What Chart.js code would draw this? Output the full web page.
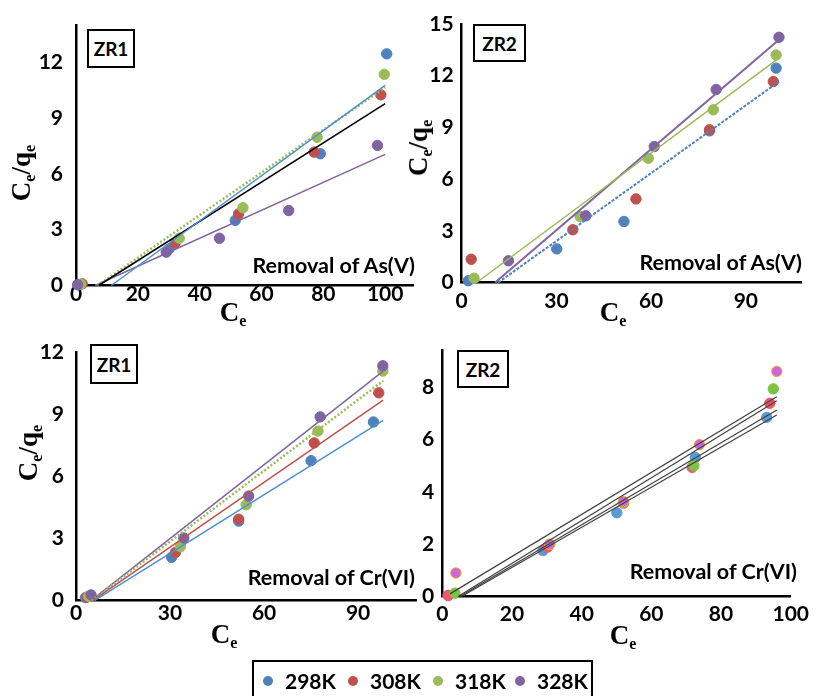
<!DOCTYPE html>
<html>
<head>
<meta charset="utf-8">
<script src="https://cdn.jsdelivr.net/npm/chart.js@4.4.1/dist/chart.umd.min.js"></script>
<style>
  body { margin: 0; background: #fff; }
  #page { position: relative; width: 816px; height: 696px; overflow: hidden; font-family: Lato, "Open Sans", sans-serif; }
  canvas { position: absolute; }
  .tag { position: absolute; border: 2px solid #000; box-sizing: border-box; font: bold 19px Lato, sans-serif; display: flex; align-items: center; justify-content: center; background: #fff; }
  .note { position: absolute; font: bold 21.5px Lato, sans-serif; white-space: nowrap; line-height: 20px; transform: translate(-100%, -50%); }
  .ttl { position: absolute; font: bold 27px "Liberation Serif", "DejaVu Serif", serif; line-height: 26px; white-space: nowrap; }
  .ttl sub { font-size: 16px; vertical-align: baseline; position: relative; top: 5px; }
  .xt { transform: translate(-50%, -50%); }
  .yt { transform: translate(-50%, -50%) rotate(-90deg); }
  #legend { position: absolute; left: 252px; top: 660px; width: 341px; height: 50px; border: 2px solid #000; box-sizing: border-box; }
  .li { position: absolute; top: 19px; font: bold 21px Lato, sans-serif; line-height: 20px; transform: translateY(-50%); }
  .dot { position: absolute; top: 14px; width: 10px; height: 10px; border-radius: 50%; }
</style>
</head>
<body>
<div id="page">
  <canvas id="c1" width="430" height="310" style="left:0;top:0"></canvas>
  <canvas id="c2" width="406" height="310" style="left:410px;top:0"></canvas>
  <canvas id="c3" width="430" height="300" style="left:0;top:330px"></canvas>
  <canvas id="c4" width="406" height="300" style="left:410px;top:330px"></canvas>

  <div class="tag" style="left:87px;top:29px;width:48px;height:39px">ZR1</div>
  <div class="tag" style="left:473px;top:24px;width:53px;height:38px">ZR2</div>
  <div class="tag" style="left:90px;top:344px;width:48px;height:40px">ZR1</div>
  <div class="tag" style="left:457px;top:350px;width:52px;height:38px">ZR2</div>

  <div class="note" style="left:415px;top:265px">Removal of As(V)</div>
  <div class="note" style="left:802px;top:262px">Removal of As(V)</div>
  <div class="note" style="left:415px;top:577px">Removal of Cr(VI)</div>
  <div class="note" style="left:797px;top:571px">Removal of Cr(VI)</div>

  <div class="ttl yt" style="left:23px;top:173px">C<sub>e</sub>/q<sub>e</sub></div>
  <div class="ttl yt" style="left:420px;top:148px">C<sub>e</sub>/q<sub>e</sub></div>
  <div class="ttl yt" style="left:30px;top:453px">C<sub>e</sub>/q<sub>e</sub></div>
  <div class="ttl xt" style="left:233px;top:314px">C<sub>e</sub></div>
  <div class="ttl xt" style="left:613px;top:314px">C<sub>e</sub></div>
  <div class="ttl xt" style="left:224px;top:636px">C<sub>e</sub></div>
  <div class="ttl xt" style="left:623px;top:637px">C<sub>e</sub></div>

  <div id="legend"></div>
</div>
<script>
// temperatures (series)
var temps = ['298K', '308K', '318K', '328K'];
var excelColors = ['#4F81BD', '#C0504D', '#9BBB59', '#8064A2'];

// As(V) on ZR1 : Ce and Ce/qe per temperature
var asZr1Ce = [
  [1, 30, 51.5, 79, 100.5],
  [2, 32, 52.6, 77, 98.6],
  [1.5, 33.4, 54, 78, 99.7],
  [0.5, 29.2, 46.4, 68.8, 97.5]
];
var asZr1Q = [
  [0.05, 1.95, 3.5, 7.08, 12.45],
  [0.09, 2.28, 3.85, 7.17, 10.25],
  [0.07, 2.54, 4.18, 7.97, 11.35],
  [0.04, 1.79, 2.54, 4.03, 7.53]
];
// fitted lines: [Ce start, y start, Ce end, y end]
var asZr1Fit = [
  [11.4, 0, 100, 10.75],
  [7.3, 0, 100, 9.77],
  [7, 0, 100, 10.65],
  [6.2, 0, 100, 7.05]
];

// As(V) on ZR2
var asZr2Ce = [
  [2.1, 30.1, 51.4, 78.5, 99.6],
  [3, 35.2, 55.2, 78.5, 98.7],
  [3.9, 37.5, 59.1, 79.7, 99.6],
  [14.8, 39.3, 61, 80.6, 100.5]
];
var asZr2Q = [
  [0.1, 1.95, 3.54, 8.8, 12.44],
  [1.35, 3.06, 4.85, 8.86, 11.66],
  [0.25, 3.83, 7.21, 10.02, 13.2],
  [1.26, 3.87, 7.89, 11.2, 14.23]
];
var asZr2Fit = [
  [11.6, 0, 100.5, 11.66],
  null,
  [4.75, 0, 99.6, 12.9],
  [10.6, 0, 100.5, 14.08]
];

// Cr(VI) on ZR1
var crZr1Ce = [
  [3, 30.5, 51.9, 75, 94.9],
  [3.5, 31.7, 51.9, 76, 96.6],
  [4, 33.3, 54.3, 77.2, 97.9],
  [4.8, 34.4, 55.1, 77.9, 97.9]
];
var crZr1Q = [
  [0.15, 2.1, 3.85, 6.77, 8.64],
  [0.18, 2.33, 3.94, 7.63, 10.05],
  [0.22, 2.61, 4.64, 8.2, 11.1],
  [0.28, 3.03, 5.06, 8.89, 11.36]
];
var crZr1Fit = [
  [5.85, 0, 98, 8.72],
  [5.3, 0, 98, 9.7],
  [5, 0, 98, 10.63],
  [4.8, 0, 98, 11.1]
];

// Cr(VI) on ZR2
var crZr2Ce = [
  [1.7, 28.9, 50.1, 72.6, 93.1],
  [1.7, 30.2, 52, 71.7, 94],
  [3.6, 30.8, 52, 72.2, 95],
  [3.9, 30.8, 52, 73.8, 96]
];
var crZr2Q = [
  [0.04, 1.76, 3.2, 5.32, 6.85],
  [0.04, 1.89, 3.57, 4.94, 7.39],
  [0.13, 1.99, 3.6, 5.0, 7.94],
  [0.9, 2.0, 3.63, 5.81, 8.61]
];
var crZr2Fit = [
  [5.5, 0, 96, 6.94],
  [5, 0, 96, 7.13],
  [4.5, 0, 96, 7.49],
  [2.2, 0.1, 96, 7.64]
];

var tickFont = {family: 'Lato', size: 21, weight: 'bold', lineHeight: 1};

function drawPanel(id, ce, q, fit, opt) {
  var datasets = [];
  fit.forEach(function(f, i) {
    if (!f) return;
    datasets.push({
      label: temps[i] + ' fit',
      data: [{x: f[0], y: f[1]}, {x: f[2], y: f[3]}],
      showLine: true,
      pointRadius: 0,
      borderColor: opt.lineColors[i],
      borderWidth: opt.lineWidths[i],
      borderDash: opt.dashes[i],
      order: 0,
      clip: false
    });
  });
  ce.forEach(function(row, i) {
    datasets.push({
      label: temps[i],
      data: row.map(function(x, j) { return {x: x, y: q[i][j]}; }),
      pointRadius: 5.2,
      backgroundColor: opt.pointColors[i],
      borderColor: opt.pointBorders ? opt.pointBorders[i] : opt.pointColors[i],
      borderWidth: 1,
      order: 4 - i,
      clip: false
    });
  });
  new Chart(document.getElementById(id), {
    type: 'scatter',
    data: {datasets: datasets},
    options: {
      responsive: false,
      animation: false,
      events: [],
      layout: {padding: opt.pad},
      plugins: {legend: {display: false}, tooltip: {enabled: false}},
      scales: {
        x: {
          type: 'linear', min: 0, max: opt.xMax,
          ticks: {stepSize: opt.xStep, includeBounds: false, color: '#000', font: tickFont, padding: opt.xPad, maxRotation: 0},
          grid: {display: false, drawTicks: false},
          border: {color: '#000', width: 2.5},
          afterFit: function(s) { s.height = opt.xH; }
        },
        y: {
          type: 'linear', min: 0, max: opt.yMax,
          ticks: {stepSize: opt.yStep, includeBounds: false, color: '#000', font: tickFont, padding: opt.yPad},
          grid: {display: false, drawTicks: false},
          border: {color: '#000', width: 2.5},
          afterFit: function(s) { s.width = opt.yW; }
        }
      }
    }
  });
}

drawPanel('c1', asZr1Ce, asZr1Q, asZr1Fit, {
  pad: {left: 0, top: 25, right: 17, bottom: 0}, yW: 76, xH: 24.5,
  xMax: 109, xStep: 20, yMax: 14, yStep: 3, xPad: -1.5, yPad: 13,
  pointColors: excelColors,
  lineColors: ['#4F8FD0', '#000000', '#9BBB59', '#8064A2'],
  lineWidths: [1.5, 1.5, 2.5, 1.5],
  dashes: [[], [], [2, 2], []]
});

drawPanel('c2', asZr2Ce, asZr2Q, asZr2Fit, {
  pad: {left: 0, top: 24, right: 14.3, bottom: 0}, yW: 51.7, xH: 27.5,
  xMax: 107.7, xStep: 30, yMax: 15, yStep: 3, xPad: 8.5, yPad: 8,
  pointColors: excelColors,
  lineColors: ['#4F81BD', '#C0504D', '#9BBB59', '#8064A2'],
  lineWidths: [2, 1.5, 1.5, 2],
  dashes: [[3, 1.5], [], [], []]
});

drawPanel('c3', crZr1Ce, crZr1Q, crZr1Fit, {
  pad: {left: 0, top: 14, right: 13.3, bottom: 0}, yW: 76, xH: 29.3,
  xMax: 108.7, xStep: 30, yMax: 12, yStep: 3, xPad: 2, yPad: 12,
  pointColors: excelColors,
  lineColors: ['#4F8FD0', '#C0504D', '#9BBB59', '#8064A2'],
  lineWidths: [1.5, 1.5, 2.5, 1.5],
  dashes: [[], [], [2, 2], []]
});

drawPanel('c4', crZr2Ce, crZr2Q, crZr2Fit, {
  pad: {left: 0, top: 20.7, right: 19.3, bottom: 0}, yW: 32.3, xH: 33.5,
  xMax: 100, xStep: 20, yMax: 9.4, yStep: 2, xPad: 7, yPad: 8,
  pointColors: ['#5B9BD5', '#F2566B', '#7CC243', '#CC66DD'],
  pointBorders: ['#5B9BD5', '#F2566B', '#7CC243', '#F5A623'],
  lineColors: ['#404040', '#404040', '#404040', '#404040'],
  lineWidths: [1.2, 1.2, 1.2, 1.2],
  dashes: [[], [], [], []]
});

// shared legend
var legendX = [14, 99, 184, 266];
var legend = document.getElementById('legend');
temps.forEach(function(t, i) {
  var d = document.createElement('div');
  d.className = 'dot';
  d.style.left = (legendX[i] - 5) + 'px';
  d.style.background = excelColors[i];
  legend.appendChild(d);
  var s = document.createElement('div');
  s.className = 'li';
  s.style.left = (legendX[i] + 17) + 'px';
  s.textContent = t;
  legend.appendChild(s);
});
</script>
</body>
</html>
